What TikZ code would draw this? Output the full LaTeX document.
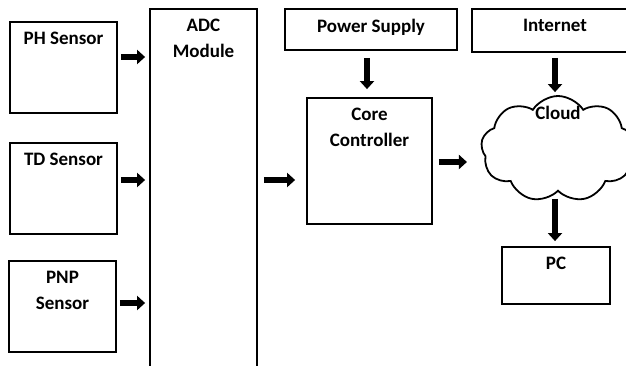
\documentclass[tikz,border=0pt]{standalone}
\usepackage{fontspec}
\setmainfont{Carlito}
\usetikzlibrary{arrows.meta,shapes.symbols}
\begin{document}
\begin{tikzpicture}[x=1pt,y=-1pt,
  box/.style 2 args={draw, line width=1.8pt, rectangle, inner sep=0pt,
    minimum width=#1, minimum height=#2},
  txt/.style={label={[anchor=north, yshift=-10.5pt, align=center, inner sep=0pt,
    font=\bfseries\fontsize{19}{26}\selectfont]north:#1}},
  arr/.style={line width=6pt, -{Triangle[length=8pt, width=14pt]}}]
  \useasboundingbox (0,0) rectangle (626,366);
  \clip (0,0) rectangle (626,366);

  % sensors
  \node[box={107pt}{91pt}, txt={PH Sensor}] (ph) at (63.5,67.5) {};
  \node[box={107pt}{91pt}, txt={TD Sensor}] (td) at (63.5,188.5) {};
  \node[box={107pt}{91pt}, txt={PNP\\Sensor}] (pnp) at (62.5,306.5) {};

  % converter, controller and supply
  \node[box={107pt}{371pt}, txt={ADC\\Module}] (adc) at (203.5,194.5) {};
  \node[box={172pt}{41pt}, txt={Power Supply}] (power) at (371,29.5) {};
  \node[box={125pt}{126pt}, txt={Core\\Controller}] (core) at (369.5,161) {};

  % network side
  \node[box={166pt}{43pt}, txt={Internet}] (internet) at (555,30.5) {};
  \node[draw, line width=1.8pt, cloud, cloud puffs=9, cloud puff arc=115,
        aspect=1.45, inner sep=0pt, minimum width=154pt, minimum height=106pt,
        label={[anchor=north, yshift=-11pt, inner sep=0pt,
          font=\bfseries\fontsize{19}{26}\selectfont]north:Cloud}]
        (cloud) at (558,149) {};
  \node[box={108pt}{57pt}, txt={PC}] (pc) at (556,275.5) {};

  % connectors
  \draw[arr] ([xshift=3pt,yshift=10.5pt]ph.east) -- ([xshift=-4pt,yshift=10.5pt]ph.east -| adc.west);
  \draw[arr] ([xshift=3pt,yshift=8.5pt]td.east) -- ([xshift=-4pt,yshift=8.5pt]td.east -| adc.west);
  \draw[arr] ([xshift=3pt,yshift=3.5pt]pnp.east) -- ([xshift=-4pt,yshift=3.5pt]pnp.east -| adc.west);
  \draw[arr] ([xshift=6pt,yshift=14.5pt]adc.east) -- ([xshift=-11pt,yshift=14.5pt]adc.east -| core.west);
  \draw[arr] ([xshift=-4pt,yshift=-7pt]power.south) -- ([xshift=-4pt,yshift=8pt]power.south |- core.north);
  \draw[arr] ([yshift=-5pt]internet.south) -- ([yshift=3pt]internet.south |- cloud.north);
  \draw[arr] ([xshift=6pt,yshift=-1pt]core.east) -- ([xshift=-14pt,yshift=-1pt]core.east -| cloud.west);
  \draw[arr] ([xshift=-3pt,yshift=-7pt]cloud.south) -- ([xshift=-3pt,yshift=5pt]cloud.south |- pc.north);
\end{tikzpicture}
\end{document}
